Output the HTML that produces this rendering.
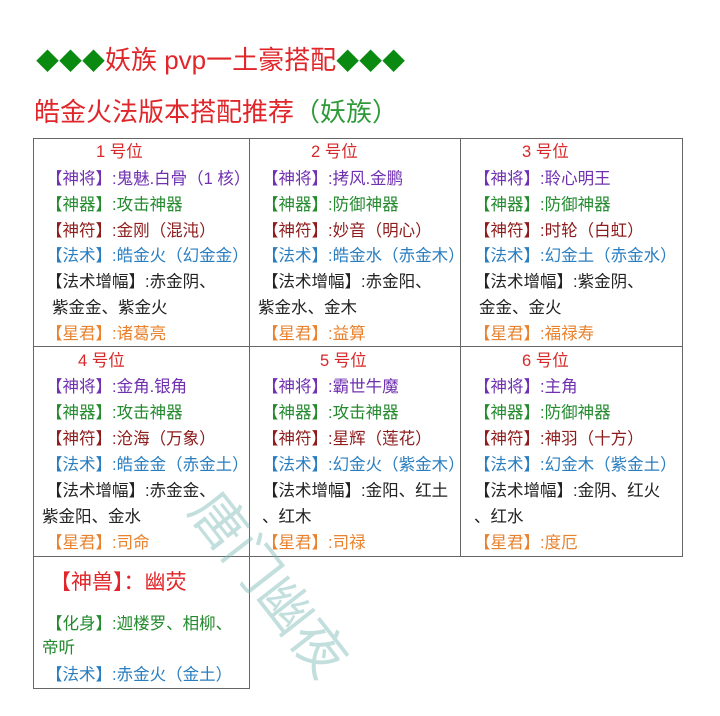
<!DOCTYPE html>
<html><head><meta charset="utf-8"><style>
body{margin:0;width:720px;height:716px;background:#fff;position:relative;overflow:hidden;font-family:"Liberation Sans","Noto Sans CJK SC",sans-serif;}
.t{position:absolute;white-space:nowrap;font-size:16.5px;line-height:20px;}
.h{color:#d8282a;}
.p{color:#7030b0}.g{color:#238a2e}.r{color:#8e1c1c}.b{color:#2a7ec0}.k{color:#222}.o{color:#e8822e}
.ln{position:absolute;background:#666;}
</style></head><body>
<div class="t" style="left:36px;top:44px;font-size:26px;line-height:32px;"><span style="color:#0a8a10;font-size:23px">◆◆◆</span><span style="color:#e0262a">妖族 pvp一土豪搭配</span><span style="color:#0a8a10;font-size:23px">◆◆◆</span></div>
<div class="t" style="left:34px;top:96px;font-size:26px;line-height:32px;color:#e0262a">皓金火法版本搭配推荐<span style="color:#2e9a38">（妖族）</span></div>

<div class="ln" style="left:33px;top:138px;width:650px;height:1px"></div>
<div class="ln" style="left:33px;top:346px;width:650px;height:1px"></div>
<div class="ln" style="left:33px;top:556px;width:650px;height:1px"></div>
<div class="ln" style="left:33px;top:688px;width:217px;height:1px"></div>
<div class="ln" style="left:33px;top:138px;width:1px;height:551px"></div>
<div class="ln" style="left:249px;top:138px;width:1px;height:551px"></div>
<div class="ln" style="left:460px;top:138px;width:1px;height:419px"></div>
<div class="ln" style="left:682px;top:138px;width:1px;height:419px"></div>

<div class="t h" style="left:96px;top:142px">1 号位</div>
<div class="t p" style="left:46px;top:169px">【神将】:鬼魅.白骨（1 核）</div>
<div class="t g" style="left:46px;top:195px">【神器】:攻击神器</div>
<div class="t r" style="left:46px;top:221px">【神符】:金刚（混沌）</div>
<div class="t b" style="left:46px;top:246px">【法术】:皓金火（幻金金）</div>
<div class="t k" style="left:46px;top:272px">【法术增幅】:赤金阴、</div>
<div class="t k" style="left:52px;top:298px">紫金金、紫金火</div>
<div class="t o" style="left:46px;top:324px">【星君】:诸葛亮</div>

<div class="t h" style="left:311px;top:142px">2 号位</div>
<div class="t p" style="left:262px;top:169px">【神将】:拷风.金鹏</div>
<div class="t g" style="left:262px;top:195px">【神器】:防御神器</div>
<div class="t r" style="left:262px;top:221px">【神符】:妙音（明心）</div>
<div class="t b" style="left:262px;top:246px">【法术】:皓金水（赤金木）</div>
<div class="t k" style="left:262px;top:272px">【法术增幅】:赤金阳、</div>
<div class="t k" style="left:258px;top:298px">紫金水、金木</div>
<div class="t o" style="left:262px;top:324px">【星君】:益算</div>

<div class="t h" style="left:522px;top:142px">3 号位</div>
<div class="t p" style="left:474px;top:169px">【神将】:聆心明王</div>
<div class="t g" style="left:474px;top:195px">【神器】:防御神器</div>
<div class="t r" style="left:474px;top:221px">【神符】:时轮（白虹）</div>
<div class="t b" style="left:474px;top:246px">【法术】:幻金土（赤金水）</div>
<div class="t k" style="left:474px;top:272px">【法术增幅】:紫金阴、</div>
<div class="t k" style="left:479px;top:298px">金金、金火</div>
<div class="t o" style="left:474px;top:324px">【星君】:福禄寿</div>

<div class="t h" style="left:78px;top:351px">4 号位</div>
<div class="t p" style="left:46px;top:377px">【神将】:金角.银角</div>
<div class="t g" style="left:46px;top:403px">【神器】:攻击神器</div>
<div class="t r" style="left:46px;top:429px">【神符】:沧海（万象）</div>
<div class="t b" style="left:46px;top:455px">【法术】:皓金金（赤金土）</div>
<div class="t k" style="left:46px;top:481px">【法术增幅】:赤金金、</div>
<div class="t k" style="left:42px;top:507px">紫金阳、金水</div>
<div class="t o" style="left:46px;top:533px">【星君】:司命</div>

<div class="t h" style="left:320px;top:351px">5 号位</div>
<div class="t p" style="left:262px;top:377px">【神将】:霸世牛魔</div>
<div class="t g" style="left:262px;top:403px">【神器】:攻击神器</div>
<div class="t r" style="left:262px;top:429px">【神符】:星辉（莲花）</div>
<div class="t b" style="left:262px;top:455px">【法术】:幻金火（紫金木）</div>
<div class="t k" style="left:262px;top:481px">【法术增幅】:金阳、红土</div>
<div class="t k" style="left:262px;top:507px">、红木</div>
<div class="t o" style="left:262px;top:533px">【星君】:司禄</div>

<div class="t h" style="left:522px;top:351px">6 号位</div>
<div class="t p" style="left:474px;top:377px">【神将】:主角</div>
<div class="t g" style="left:474px;top:403px">【神器】:防御神器</div>
<div class="t r" style="left:474px;top:429px">【神符】:神羽（十方）</div>
<div class="t b" style="left:474px;top:455px">【法术】:幻金木（紫金土）</div>
<div class="t k" style="left:474px;top:481px">【法术增幅】:金阴、红火</div>
<div class="t k" style="left:474px;top:507px">、红水</div>
<div class="t o" style="left:474px;top:533px">【星君】:度厄</div>

<div class="t" style="left:50px;top:570px;font-size:21px;line-height:26px;color:#e0262a">【神兽】：幽荧</div>
<div class="t g" style="left:46px;top:614px">【化身】:迦楼罗、相柳、</div>
<div class="t g" style="left:42px;top:638px">帝听</div>
<div class="t b" style="left:46px;top:665px">【法术】:赤金火（金土）</div>

<div class="t" style="left:160px;top:555px;font-size:54px;line-height:60px;color:rgba(120,185,180,0.45);transform:rotate(52deg);transform-origin:center;">唐门幽夜</div>
</body></html>
